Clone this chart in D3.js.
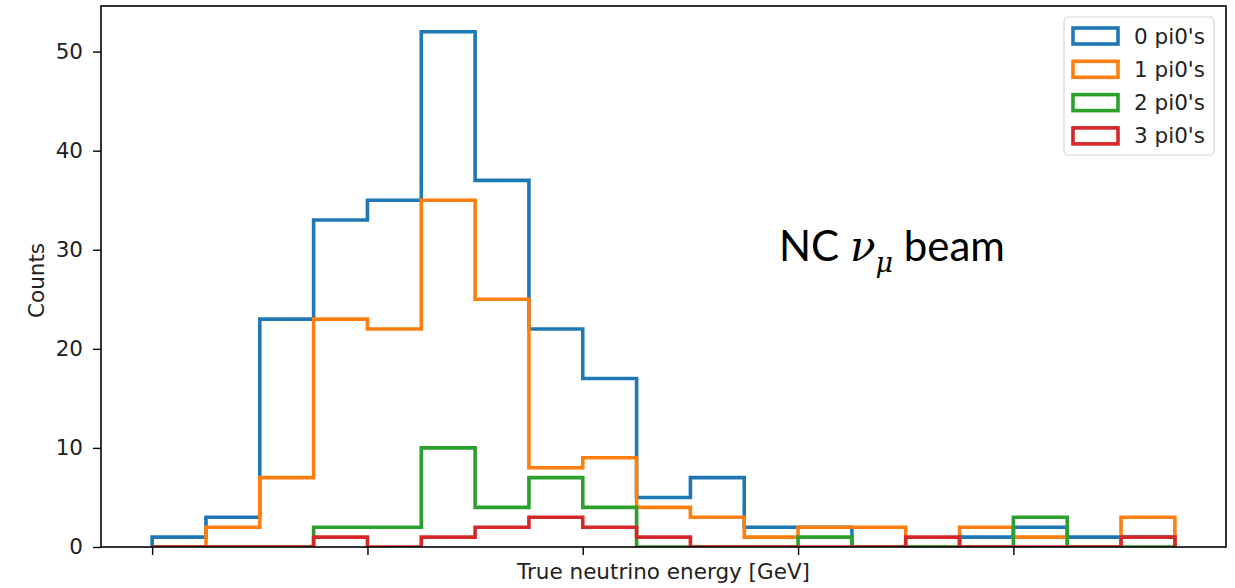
<!DOCTYPE html>
<html>
<head>
<meta charset="utf-8">
<script src="https://cdn.jsdelivr.net/npm/d3@7"></script>
<style>
  html, body { margin: 0; padding: 0; background: #ffffff; }
  svg { display: block; }
  .tick text { font-family: "DejaVu Sans", sans-serif; }
</style>
</head>
<body>
<svg id="chart" width="1235" height="588"></svg>
<script>
// Histogram bins: 19 equal-width bins, indexed by bin number
const binCount = 19;
const binEdges = d3.range(binCount + 1);
const xTickBins = [0, 4, 8, 12, 16];
const yTicks = [0, 10, 20, 30, 40, 50];

// Counts per bin for each pi0 multiplicity
const seriesNames = ["0 pi0's", "1 pi0's", "2 pi0's", "3 pi0's"];
const zeroPi0  = [1, 3, 23, 33, 35, 52, 37, 22, 17, 5, 7, 2, 2, 0, 0, 1, 2, 1, 1];
const onePi0   = [0, 2, 7, 23, 22, 35, 25, 8, 9, 4, 3, 1, 2, 2, 0, 2, 1, 0, 3];
const twoPi0   = [0, 0, 0, 2, 2, 10, 4, 7, 4, 0, 0, 0, 1, 0, 0, 0, 3, 0, 0];
const threePi0 = [0, 0, 0, 1, 0, 1, 2, 3, 2, 1, 0, 0, 0, 0, 1, 0, 0, 0, 1];
const seriesColors = ["#1f77b4", "#ff7f0e", "#2ca02c", "#d62728"];

const allSeries = [zeroPi0, onePi0, twoPi0, threePi0];

const svg = d3.select("#chart");
const plot = { left: 101, right: 1226, top: 6, bottom: 547 };
const fontSize = 21.5;

// x: bin index with 5% padding on either side; y: counts from zero with 5% headroom
const pad = binCount * 0.05;
const x = d3.scaleLinear().domain([-pad, binCount + pad]).range([plot.left, plot.right]);
const yMax = d3.max(allSeries.flat()) * 1.05;
const y = d3.scaleLinear().domain([0, yMax]).range([plot.bottom, plot.top]);

svg.append("defs").append("clipPath").attr("id", "plot-clip")
  .append("rect")
  .attr("x", plot.left).attr("y", plot.top)
  .attr("width", plot.right - plot.left).attr("height", plot.bottom - plot.top);

// Step outline for each series: up at the first edge, across every bin, down at the last edge
function stepPoints(values) {
  const pts = [[binEdges[0], 0]];
  values.forEach((v, i) => {
    pts.push([binEdges[i], v]);
    pts.push([binEdges[i + 1], v]);
  });
  pts.push([binEdges[binCount], 0]);
  return pts;
}
const line = d3.line().x(d => x(d[0])).y(d => y(d[1]));

const g = svg.append("g").attr("clip-path", "url(#plot-clip)");
allSeries.forEach((values, i) => {
  g.append("path")
    .attr("d", line(stepPoints(values)))
    .attr("fill", "none")
    .attr("stroke", seriesColors[i])
    .attr("stroke-width", 3.6)
    .attr("stroke-linejoin", "miter");
});

// Axes
const yAxis = d3.axisLeft(y).tickValues(yTicks).tickSize(8).tickPadding(10).tickFormat(d3.format("d"));
const yg = svg.append("g").attr("transform", `translate(${plot.left},0)`).call(yAxis);
yg.select(".domain").remove();
yg.selectAll(".tick line").attr("stroke", "#000").attr("stroke-width", 1.4);
yg.selectAll(".tick text").attr("font-size", fontSize).attr("fill", "#222");

const xAxis = d3.axisBottom(x).tickValues(xTickBins).tickSize(8).tickFormat("");
const xg = svg.append("g").attr("transform", `translate(0,${plot.bottom})`).call(xAxis);
xg.select(".domain").remove();
xg.selectAll(".tick line").attr("stroke", "#000").attr("stroke-width", 1.4);

// Frame
svg.append("rect")
  .attr("x", plot.left).attr("y", plot.top)
  .attr("width", plot.right - plot.left).attr("height", plot.bottom - plot.top)
  .attr("fill", "none").attr("stroke", "#000").attr("stroke-width", 1.6);

// Axis titles
svg.append("text")
  .attr("x", (plot.left + plot.right) / 2).attr("y", 579)
  .attr("text-anchor", "middle")
  .attr("font-family", "DejaVu Sans, sans-serif").attr("font-size", fontSize).attr("fill", "#222")
  .text("True neutrino energy [GeV]");

svg.append("text")
  .attr("transform", `translate(44,${(plot.top + plot.bottom) / 2 + 4}) rotate(-90)`)
  .attr("text-anchor", "middle")
  .attr("font-family", "DejaVu Sans, sans-serif").attr("font-size", fontSize).attr("fill", "#222")
  .text("Counts");

// Legend
const legend = svg.append("g");
legend.append("rect")
  .attr("x", 1064).attr("y", 17).attr("width", 150).attr("height", 138)
  .attr("rx", 4).attr("fill", "#fff").attr("stroke", "#d8d8d8").attr("stroke-width", 1.2);
seriesNames.forEach((name, i) => {
  const cy = 36 + i * 33.3;
  legend.append("rect")
    .attr("x", 1073).attr("y", cy - 8).attr("width", 45).attr("height", 16)
    .attr("fill", "none").attr("stroke", seriesColors[i]).attr("stroke-width", 3.6);
  legend.append("text")
    .attr("x", 1134).attr("y", cy + 7.5)
    .attr("font-family", "DejaVu Sans, sans-serif").attr("font-size", fontSize).attr("fill", "#222")
    .text(name);
});

// Beam annotation
const note = svg.append("text")
  .attr("x", 779).attr("y", 261)
  .attr("font-family", "Lato, 'Open Sans', sans-serif").attr("font-size", 42).attr("fill", "#000");
note.append("tspan").text("NC ");
note.append("tspan").attr("font-family", "'DejaVu Serif', serif").attr("font-style", "italic").text("ν");
note.append("tspan").attr("font-family", "'DejaVu Serif', serif").attr("font-style", "italic")
  .attr("font-size", 27).attr("dy", 11).text("μ");
note.append("tspan").attr("dy", -11).text(" beam");
</script>
</body>
</html>
